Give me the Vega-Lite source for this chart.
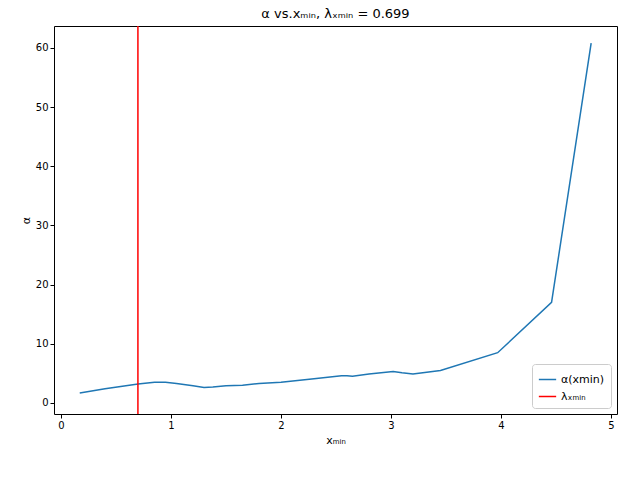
{
  "$schema": "https://vega.github.io/schema/vega-lite/v6.json",
  "width": 563,
  "height": 388,
  "padding": {"left": 20, "top": 8, "right": 15, "bottom": 5},
  "config": {
    "view": {"stroke": "black"},
    "font": "DejaVu Sans",
    "axis": {"grid": false, "domain": false, "tickColor": "black", "labelColor": "black", "titleColor": "black", "labelFontSize": 10, "titleFontSize": 11, "titleFontWeight": "normal", "tickSize": 4, "format": "d"},
    "title": {"fontSize": 13, "fontWeight": "normal", "color": "black"},
    "legend": {"labelFontSize": 11, "labelColor": "black", "symbolType": "stroke", "symbolStrokeWidth": 1.5, "symbolSize": 300}
  },
  "title": "α vs.xₘᵢₙ,  λₓₘᵢₙ = 0.699",
  "datasets": {
    "alpha": [
      {"xmin": 0.17, "alpha": 1.7},
      {"xmin": 0.4, "alpha": 2.4},
      {"xmin": 0.7, "alpha": 3.2},
      {"xmin": 0.85, "alpha": 3.5},
      {"xmin": 0.95, "alpha": 3.5},
      {"xmin": 1.05, "alpha": 3.3},
      {"xmin": 1.2, "alpha": 2.9},
      {"xmin": 1.3, "alpha": 2.6},
      {"xmin": 1.38, "alpha": 2.7},
      {"xmin": 1.5, "alpha": 2.9},
      {"xmin": 1.65, "alpha": 3.0},
      {"xmin": 1.8, "alpha": 3.3},
      {"xmin": 2.0, "alpha": 3.5},
      {"xmin": 2.3, "alpha": 4.1},
      {"xmin": 2.55, "alpha": 4.6},
      {"xmin": 2.6, "alpha": 4.6},
      {"xmin": 2.65, "alpha": 4.5},
      {"xmin": 2.8, "alpha": 4.9},
      {"xmin": 3.02, "alpha": 5.3},
      {"xmin": 3.1, "alpha": 5.1},
      {"xmin": 3.2, "alpha": 4.9},
      {"xmin": 3.45, "alpha": 5.5},
      {"xmin": 3.97, "alpha": 8.5},
      {"xmin": 4.46, "alpha": 17.0},
      {"xmin": 4.82, "alpha": 60.8}
    ],
    "lambda": [{"xmin": 0.699}]
  },
  "layer": [
    {
      "data": {"name": "alpha"},
      "mark": {"type": "line", "strokeWidth": 1.5},
      "encoding": {
        "x": {"field": "xmin", "type": "quantitative", "title": "xₘᵢₙ", "scale": {"domain": [-0.064, 5.055], "nice": false, "zero": false}, "axis": {"values": [0, 1, 2, 3, 4, 5]}},
        "y": {"field": "alpha", "type": "quantitative", "title": "α", "scale": {"domain": [-1.86, 63.7], "nice": false}, "axis": {"values": [0, 10, 20, 30, 40, 50, 60]}},
        "color": {
          "datum": "α(xmin)", "type": "nominal",
          "scale": {"domain": ["α(xmin)", "λₓₘᵢₙ"], "range": ["#1f77b4", "red"]},
          "legend": {"title": null, "orient": "bottom-right", "offset": 6, "fillColor": "white", "strokeColor": "#cccccc", "padding": 6, "cornerRadius": 3}
        }
      }
    },
    {
      "data": {"name": "lambda"},
      "mark": {"type": "rule", "strokeWidth": 1.5},
      "encoding": {
        "x": {"field": "xmin", "type": "quantitative"},
        "color": {"datum": "λₓₘᵢₙ", "type": "nominal"}
      }
    }
  ]
}
